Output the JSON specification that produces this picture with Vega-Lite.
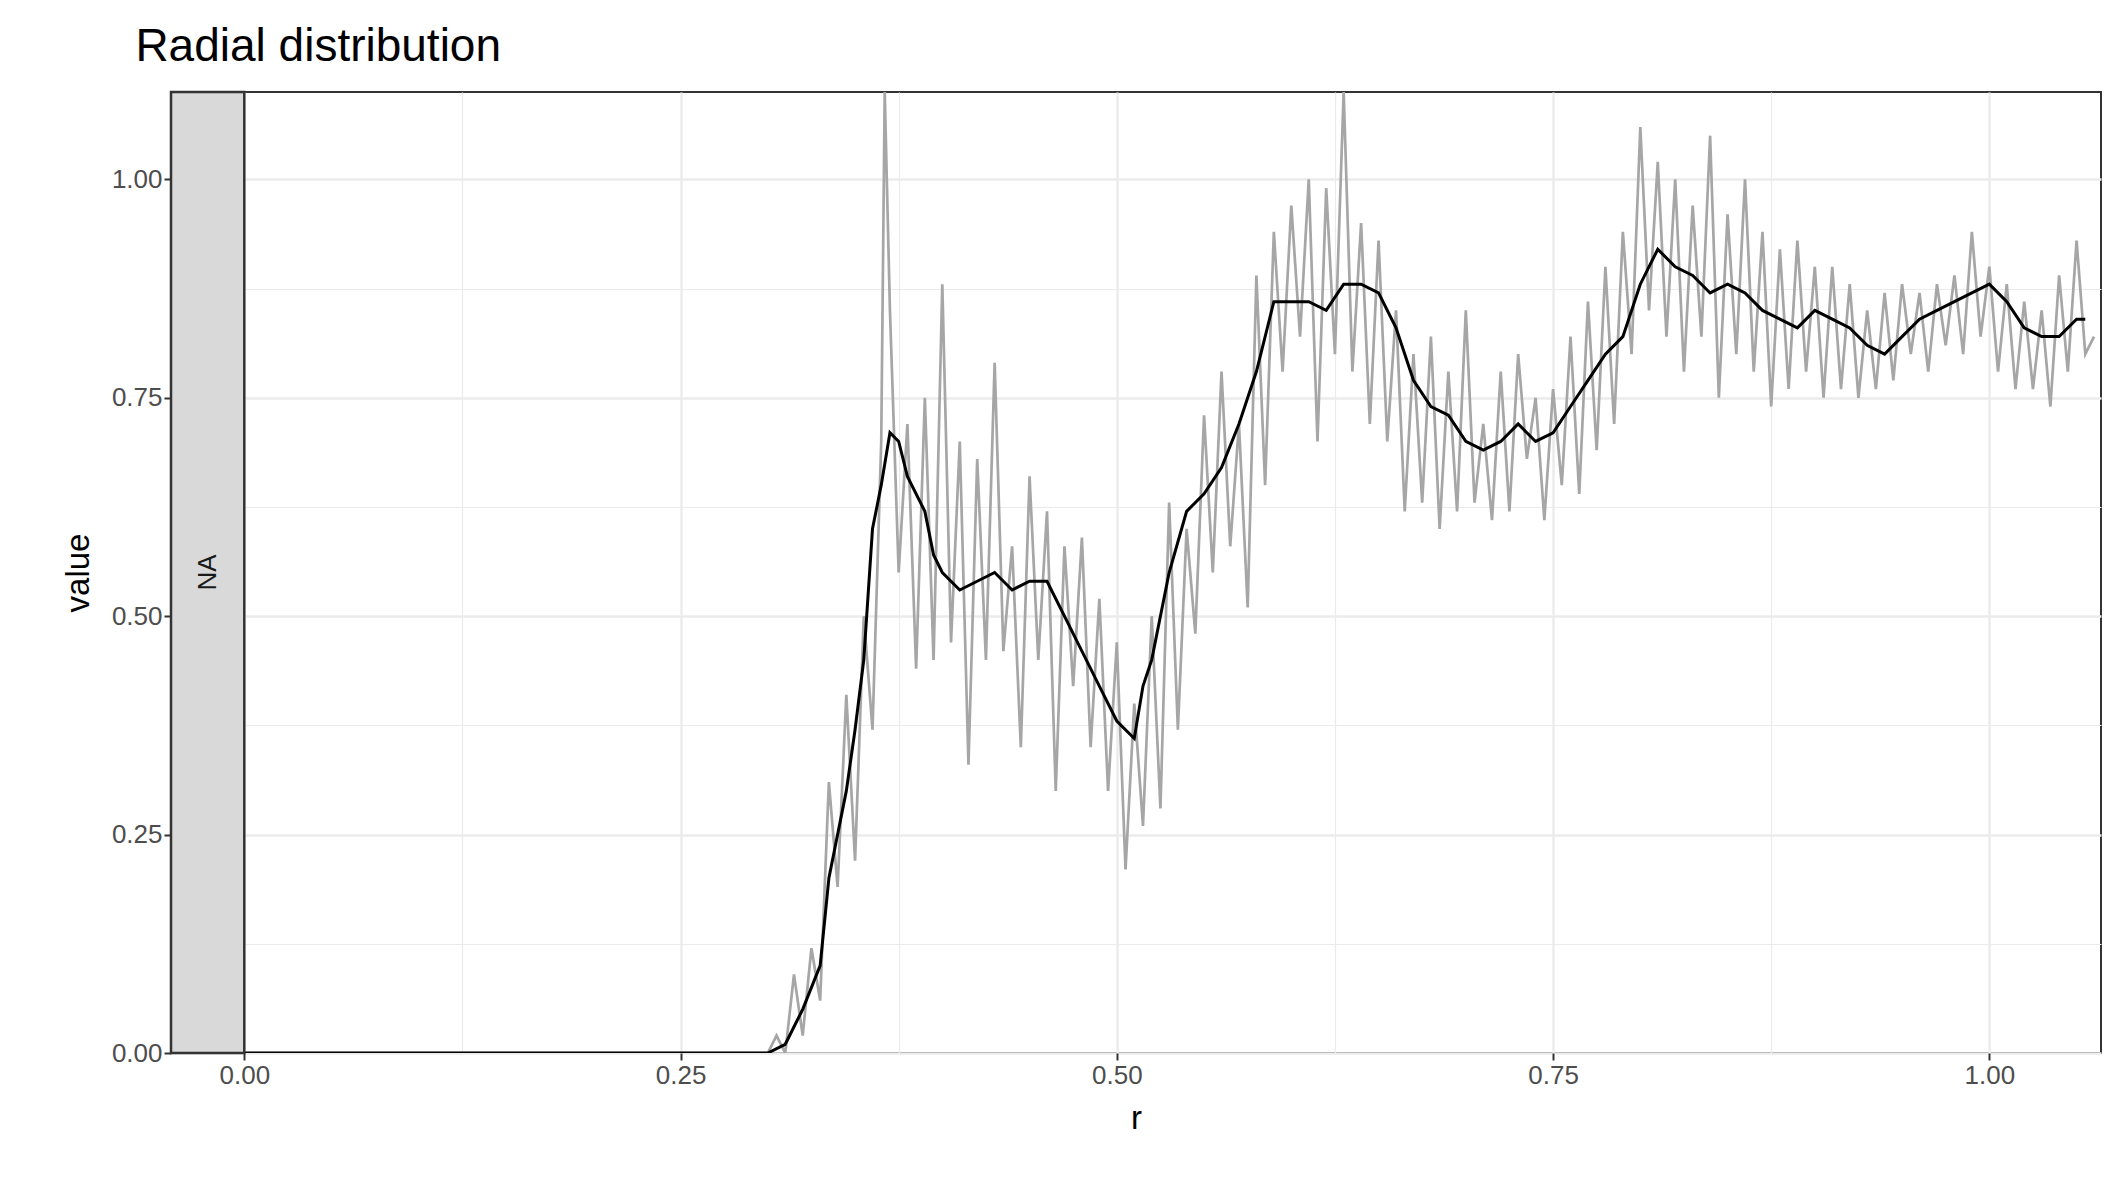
{
"$schema":"https://vega.github.io/schema/vega-lite/v6.json",
"width":1930,"height":961,
"autosize":{"type":"none"},
"padding":{"left":171,"top":92,"right":25,"bottom":128},
"background":"white",
"title":{"text":"Radial distribution","anchor":"start","offset":20,"fontSize":46,"font":"Liberation Sans","fontWeight":"normal","color":"black","dx":73},
"config":{"view":{"stroke":"#333333","strokeWidth":2},"font":"Liberation Sans",
"axis":{"labelFontSize":26,"labelColor":"#4d4d4d","titleFontSize":33,"titleFontWeight":"normal","titleColor":"black","gridColor":"#ebebeb","domain":false,"tickColor":"#333333","tickSize":7,"tickWidth":2,
"gridWidth":{"condition":{"test":"datum.value % 0.25 != 0","value":1.2},"value":2.4},
"tickOpacity":{"condition":{"test":"datum.value % 0.25 != 0","value":0},"value":1}}},
"datasets":{
"raw":[{"r":0,"v":0},{"r":0.3,"v":0},{"r":0.305,"v":0.02},{"r":0.31,"v":0},{"r":0.315,"v":0.09},{"r":0.32,"v":0.02},{"r":0.325,"v":0.12},{"r":0.33,"v":0.06},{"r":0.335,"v":0.31},{"r":0.34,"v":0.19},{"r":0.345,"v":0.41},{"r":0.35,"v":0.22},{"r":0.355,"v":0.5},{"r":0.36,"v":0.37},{"r":0.365,"v":0.7},{"r":0.367,"v":1.1},{"r":0.37,"v":0.85},{"r":0.375,"v":0.55},{"r":0.38,"v":0.72},{"r":0.385,"v":0.44},{"r":0.39,"v":0.75},{"r":0.395,"v":0.45},{"r":0.4,"v":0.88},{"r":0.405,"v":0.47},{"r":0.41,"v":0.7},{"r":0.415,"v":0.33},{"r":0.42,"v":0.68},{"r":0.425,"v":0.45},{"r":0.43,"v":0.79},{"r":0.435,"v":0.46},{"r":0.44,"v":0.58},{"r":0.445,"v":0.35},{"r":0.45,"v":0.66},{"r":0.455,"v":0.45},{"r":0.46,"v":0.62},{"r":0.465,"v":0.3},{"r":0.47,"v":0.58},{"r":0.475,"v":0.42},{"r":0.48,"v":0.59},{"r":0.485,"v":0.35},{"r":0.49,"v":0.52},{"r":0.495,"v":0.3},{"r":0.5,"v":0.47},{"r":0.505,"v":0.21},{"r":0.51,"v":0.4},{"r":0.515,"v":0.26},{"r":0.52,"v":0.5},{"r":0.525,"v":0.28},{"r":0.53,"v":0.63},{"r":0.535,"v":0.37},{"r":0.54,"v":0.6},{"r":0.545,"v":0.48},{"r":0.55,"v":0.73},{"r":0.555,"v":0.55},{"r":0.56,"v":0.78},{"r":0.565,"v":0.58},{"r":0.57,"v":0.72},{"r":0.575,"v":0.51},{"r":0.58,"v":0.89},{"r":0.585,"v":0.65},{"r":0.59,"v":0.94},{"r":0.595,"v":0.78},{"r":0.6,"v":0.97},{"r":0.605,"v":0.82},{"r":0.61,"v":1.0},{"r":0.615,"v":0.7},{"r":0.62,"v":0.99},{"r":0.625,"v":0.8},{"r":0.63,"v":1.1},{"r":0.635,"v":0.78},{"r":0.64,"v":0.95},{"r":0.645,"v":0.72},{"r":0.65,"v":0.93},{"r":0.655,"v":0.7},{"r":0.66,"v":0.85},{"r":0.665,"v":0.62},{"r":0.67,"v":0.8},{"r":0.675,"v":0.63},{"r":0.68,"v":0.82},{"r":0.685,"v":0.6},{"r":0.69,"v":0.78},{"r":0.695,"v":0.62},{"r":0.7,"v":0.85},{"r":0.705,"v":0.63},{"r":0.71,"v":0.72},{"r":0.715,"v":0.61},{"r":0.72,"v":0.78},{"r":0.725,"v":0.62},{"r":0.73,"v":0.8},{"r":0.735,"v":0.68},{"r":0.74,"v":0.75},{"r":0.745,"v":0.61},{"r":0.75,"v":0.76},{"r":0.755,"v":0.65},{"r":0.76,"v":0.82},{"r":0.765,"v":0.64},{"r":0.77,"v":0.86},{"r":0.775,"v":0.69},{"r":0.78,"v":0.9},{"r":0.785,"v":0.72},{"r":0.79,"v":0.94},{"r":0.795,"v":0.8},{"r":0.8,"v":1.06},{"r":0.805,"v":0.85},{"r":0.81,"v":1.02},{"r":0.815,"v":0.82},{"r":0.82,"v":1.0},{"r":0.825,"v":0.78},{"r":0.83,"v":0.97},{"r":0.835,"v":0.82},{"r":0.84,"v":1.05},{"r":0.845,"v":0.75},{"r":0.85,"v":0.96},{"r":0.855,"v":0.8},{"r":0.86,"v":1.0},{"r":0.865,"v":0.78},{"r":0.87,"v":0.94},{"r":0.875,"v":0.74},{"r":0.88,"v":0.92},{"r":0.885,"v":0.76},{"r":0.89,"v":0.93},{"r":0.895,"v":0.78},{"r":0.9,"v":0.9},{"r":0.905,"v":0.75},{"r":0.91,"v":0.9},{"r":0.915,"v":0.76},{"r":0.92,"v":0.88},{"r":0.925,"v":0.75},{"r":0.93,"v":0.85},{"r":0.935,"v":0.76},{"r":0.94,"v":0.87},{"r":0.945,"v":0.77},{"r":0.95,"v":0.88},{"r":0.955,"v":0.8},{"r":0.96,"v":0.87},{"r":0.965,"v":0.78},{"r":0.97,"v":0.88},{"r":0.975,"v":0.81},{"r":0.98,"v":0.89},{"r":0.985,"v":0.8},{"r":0.99,"v":0.94},{"r":0.995,"v":0.82},{"r":1.0,"v":0.9},{"r":1.005,"v":0.78},{"r":1.01,"v":0.88},{"r":1.015,"v":0.76},{"r":1.02,"v":0.86},{"r":1.025,"v":0.76},{"r":1.03,"v":0.85},{"r":1.035,"v":0.74},{"r":1.04,"v":0.89},{"r":1.045,"v":0.78},{"r":1.05,"v":0.93},{"r":1.055,"v":0.8},{"r":1.06,"v":0.82}],
"smooth":[{"r":0,"v":0},{"r":0.3,"v":0},{"r":0.31,"v":0.01},{"r":0.32,"v":0.05},{"r":0.33,"v":0.1},{"r":0.335,"v":0.2},{"r":0.345,"v":0.3},{"r":0.35,"v":0.37},{"r":0.355,"v":0.45},{"r":0.36,"v":0.6},{"r":0.365,"v":0.65},{"r":0.37,"v":0.71},{"r":0.375,"v":0.7},{"r":0.38,"v":0.66},{"r":0.39,"v":0.62},{"r":0.395,"v":0.57},{"r":0.4,"v":0.55},{"r":0.41,"v":0.53},{"r":0.42,"v":0.54},{"r":0.43,"v":0.55},{"r":0.44,"v":0.53},{"r":0.45,"v":0.54},{"r":0.46,"v":0.54},{"r":0.47,"v":0.5},{"r":0.48,"v":0.46},{"r":0.49,"v":0.42},{"r":0.5,"v":0.38},{"r":0.51,"v":0.36},{"r":0.515,"v":0.42},{"r":0.52,"v":0.45},{"r":0.53,"v":0.55},{"r":0.54,"v":0.62},{"r":0.55,"v":0.64},{"r":0.56,"v":0.67},{"r":0.57,"v":0.72},{"r":0.58,"v":0.78},{"r":0.59,"v":0.86},{"r":0.6,"v":0.86},{"r":0.61,"v":0.86},{"r":0.62,"v":0.85},{"r":0.63,"v":0.88},{"r":0.64,"v":0.88},{"r":0.65,"v":0.87},{"r":0.66,"v":0.83},{"r":0.67,"v":0.77},{"r":0.68,"v":0.74},{"r":0.69,"v":0.73},{"r":0.7,"v":0.7},{"r":0.71,"v":0.69},{"r":0.72,"v":0.7},{"r":0.73,"v":0.72},{"r":0.74,"v":0.7},{"r":0.75,"v":0.71},{"r":0.76,"v":0.74},{"r":0.77,"v":0.77},{"r":0.78,"v":0.8},{"r":0.79,"v":0.82},{"r":0.8,"v":0.88},{"r":0.81,"v":0.92},{"r":0.82,"v":0.9},{"r":0.83,"v":0.89},{"r":0.84,"v":0.87},{"r":0.85,"v":0.88},{"r":0.86,"v":0.87},{"r":0.87,"v":0.85},{"r":0.88,"v":0.84},{"r":0.89,"v":0.83},{"r":0.9,"v":0.85},{"r":0.91,"v":0.84},{"r":0.92,"v":0.83},{"r":0.93,"v":0.81},{"r":0.94,"v":0.8},{"r":0.95,"v":0.82},{"r":0.96,"v":0.84},{"r":0.97,"v":0.85},{"r":0.98,"v":0.86},{"r":0.99,"v":0.87},{"r":1.0,"v":0.88},{"r":1.01,"v":0.86},{"r":1.02,"v":0.83},{"r":1.03,"v":0.82},{"r":1.04,"v":0.82},{"r":1.05,"v":0.84},{"r":1.055,"v":0.84}],
"strip":[{"x1":-0.042,"x2":0,"label":"NA","xm":-0.021,"ym":0.55}]},
"layer":[
{"data":{"name":"raw"},"mark":{"type":"line","color":"#a6a6a6","strokeWidth":2.7,"clip":true},
"encoding":{"x":{"field":"r","type":"quantitative","scale":{"domain":[-0.042,1.064],"nice":false,"zero":false},
"axis":{"title":"r","values":[0,0.125,0.25,0.375,0.5,0.625,0.75,0.875,1.0],"labelExpr":"datum.value % 0.25 == 0 ? format(datum.value,'.2f') : ''","titlePadding":14}},
"y":{"field":"v","type":"quantitative","scale":{"domain":[0,1.1],"nice":false},
"axis":{"title":"value","values":[0,0.125,0.25,0.375,0.5,0.625,0.75,0.875,1.0],"labelExpr":"datum.value % 0.25 == 0 ? format(datum.value,'.2f') : ''","titlePadding":16}}}},
{"data":{"name":"smooth"},"mark":{"type":"line","color":"black","strokeWidth":3,"clip":true},
"encoding":{"x":{"field":"r","type":"quantitative"},"y":{"field":"v","type":"quantitative"}}},
{"data":{"name":"strip"},"mark":{"type":"rect","fill":"#d9d9d9","stroke":"#333333","strokeWidth":2.5},
"encoding":{"x":{"field":"x1","type":"quantitative"},"x2":{"field":"x2"},"y":{"datum":0},"y2":{"datum":1.1}}},
{"data":{"name":"strip"},"mark":{"type":"text","angle":270,"fontSize":26,"color":"#1a1a1a"},
"encoding":{"x":{"field":"xm","type":"quantitative"},"y":{"field":"ym","type":"quantitative"},"text":{"field":"label"}}}
]}
